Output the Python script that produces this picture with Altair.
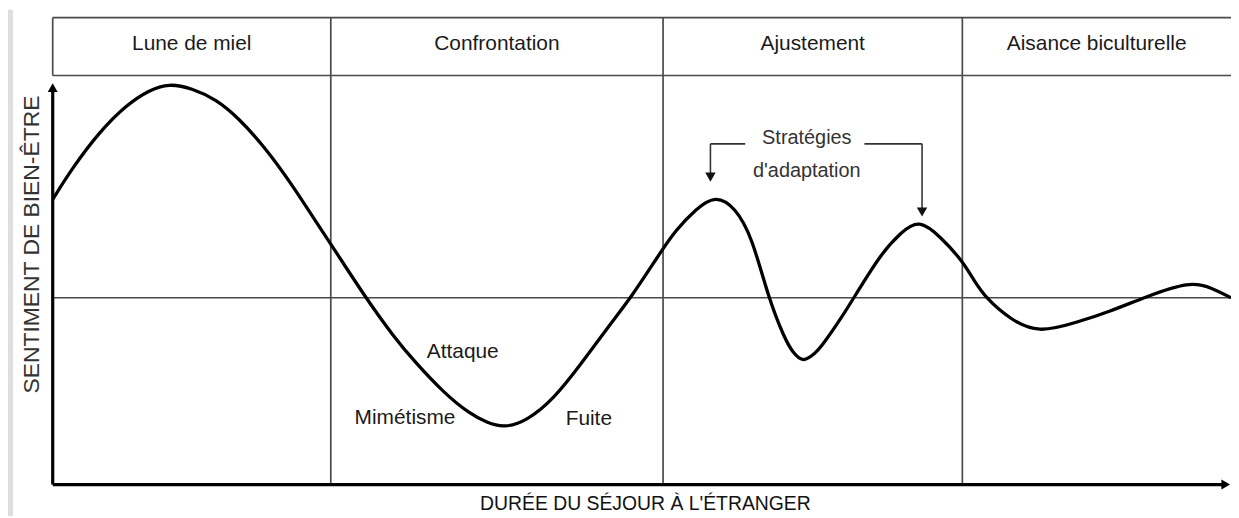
import altair as alt
import pandas as pd

# ---------------- data (time 0-100, well-being: 0 = neutral line, -100 = x axis) -------------
curve_t = [0, 1.69, 3.96, 6.24, 8.18, 9.87, 11.80, 13.83, 15.77, 18.04, 20.24, 22.26, 23.78,
           26.56, 29.0, 30.69, 33.22, 35.41, 36.85, 38.28, 40.22, 42.50, 44.69, 47.22, 49.07,
           51.43, 52.87, 54.55, 56.24, 57.93, 59.36, 60.71, 62.14, 62.82, 63.66, 64.50, 65.26,
           66.95, 68.04, 70.32, 72.01, 73.52, 75.38, 77.15, 78.16, 79.17, 81.28, 83.64, 86.85,
           89.71, 92.75, 96.54, 98.40, 100]
curve_v = [52.7, 69.7, 88.8, 103.2, 111.2, 114.8, 112.2, 106.4, 96.3, 80.3, 61.2, 41.5, 27.1,
           0, -21.3, -34.0, -51.1, -62.2, -66.8, -69.7, -66.0, -54.3, -36.7, -14.9, 0,
           22.9, 36.2, 47.3, 55.1, 48.4, 32.4, 0.5, -22.3, -29.3, -34.5, -30.9, -26.1,
           -10.6, 0.5, 23.9, 35.1, 42.2, 32.4, 20.2, 9.6, 0, -11.7, -19.0, -13.3,
           -7.4, 0.5, 8.9, 5.3, 0]

phase_names = ["Lune de miel", "Confrontation", "Ajustement", "Aisance biculturelle"]
phase_bounds = [0, 23.6, 51.8, 77.2, 100]

header_bottom = 119
header_top = 150
axis_bottom = -100
y_arrow_tip = 115

phase_labels = ["Attaque", "Mimétisme", "Fuite"]
phase_label_t = [34.8, 29.9, 45.5]
phase_label_v = [-29.3, -64.4, -64.9]

strat_lines = ["Stratégies", "d'adaptation"]
strat_t = [64.0, 64.0]
strat_v = [85.6, 68.1]

# bracket arrows to the two adaptation peaks
bracket_from_t = [58.77, 68.89]
bracket_to_t = [55.82, 73.78]
bracket_v = [82.4, 82.4]
bracket_end_v = [66.5, 48.0]
arrowhead_v = [64.6, 45.9]

x_title = "DURÉE DU SÉJOUR À L'ÉTRANGER"
y_title = "SENTIMENT DE BIEN-ÊTRE"

# ---------------- scales ----------------
FONT = "Liberation Sans, Arial, sans-serif"
xs = alt.Scale(domain=[0, 100], range=[45, 1231], nice=False, zero=False)
ys = alt.Scale(domain=[-100, 150], range=[478, 8], nice=False, zero=False)


def X(f):
    return alt.X(f, type="quantitative", scale=xs, axis=None)


def X2(f):
    return alt.X2(f)


def Y(f):
    return alt.Y(f, type="quantitative", scale=ys, axis=None)


def Y2(f):
    return alt.Y2(f)


# ---------------- tables ----------------
curve = pd.DataFrame({"t": curve_t, "v": curve_v})

grid_rows = []
grid_rows.append({"t1": 0, "t2": 100, "v1": header_top, "v2": header_top})
grid_rows.append({"t1": 0, "t2": 100, "v1": header_bottom, "v2": header_bottom})
grid_rows.append({"t1": 0, "t2": 100, "v1": 0, "v2": 0})
grid_rows.append({"t1": 0, "t2": 0, "v1": header_bottom, "v2": header_top})
for b in phase_bounds[1:-1]:
    grid_rows.append({"t1": b, "t2": b, "v1": axis_bottom, "v2": header_top})
grid = pd.DataFrame(grid_rows)

axes = pd.DataFrame([
    {"t1": 0, "t2": 0, "v1": axis_bottom, "v2": y_arrow_tip - 4},
    {"t1": 0, "t2": 99.4, "v1": axis_bottom, "v2": axis_bottom},
])
axis_heads = pd.DataFrame([
    {"t": 0, "v": y_arrow_tip - 2.5, "shape": "triangle-up"},
    {"t": 99.55, "v": axis_bottom, "shape": "triangle-right"},
])

br_rows = []
for i in range(2):
    br_rows.append({"t1": bracket_from_t[i], "t2": bracket_to_t[i], "v1": bracket_v[i], "v2": bracket_v[i]})
    br_rows.append({"t1": bracket_to_t[i], "t2": bracket_to_t[i], "v1": bracket_v[i], "v2": bracket_end_v[i]})
brackets = pd.DataFrame(br_rows)
br_heads = pd.DataFrame({"t": bracket_to_t, "v": arrowhead_v})

headers = pd.DataFrame({
    "label": phase_names,
    "t": [(phase_bounds[i] + phase_bounds[i + 1]) / 2 for i in range(4)],
    "v": [(header_bottom + header_top) / 2 + 1.5] * 4,
})
inner = pd.DataFrame({"label": phase_labels, "t": phase_label_t, "v": phase_label_v})
strat = pd.DataFrame({"label": strat_lines, "t": strat_t, "v": strat_v})
xt = pd.DataFrame({"label": [x_title], "t": [50.3], "v": [-110.5]})
yt = pd.DataFrame({"label": [y_title], "t": [-1.75], "v": [28.5]})

# ---------------- layers ----------------
strip = alt.Chart(pd.DataFrame({"a": [0]})).mark_rect(color="#dedede").encode(
    x=alt.value(0), x2=alt.value(5), y=alt.value(0), y2=alt.value(510))

grid_l = alt.Chart(grid).mark_rule(color="#4a4a4a", strokeWidth=1.7).encode(
    x=X("t1"), x2=X2("t2"), y=Y("v1"), y2=Y2("v2"))

axes_l = alt.Chart(axes).mark_rule(color="#000000", strokeWidth=3.2).encode(
    x=X("t1"), x2=X2("t2"), y=Y("v1"), y2=Y2("v2"))

heads_l = alt.Chart(axis_heads).mark_point(filled=True, color="#000000", size=100, opacity=1).encode(
    x=X("t"), y=Y("v"), shape=alt.Shape("shape:N", scale=None, legend=None))

curve_l = alt.Chart(curve).mark_line(color="#000000", strokeWidth=3.3, interpolate="basis").encode(
    x=X("t"), y=Y("v"), order="t:Q")

br_l = alt.Chart(brackets).mark_rule(color="#333333", strokeWidth=1.6).encode(
    x=X("t1"), x2=X2("t2"), y=Y("v1"), y2=Y2("v2"))

br_heads_l = alt.Chart(br_heads).mark_point(filled=True, color="#111111", size=110, opacity=1,
                                            shape="triangle-down").encode(x=X("t"), y=Y("v"))

headers_l = alt.Chart(headers).mark_text(font=FONT, fontSize=21, color="#1a1a1a", baseline="middle").encode(
    x=X("t"), y=Y("v"), text="label:N")

inner_l = alt.Chart(inner).mark_text(font=FONT, fontSize=21, color="#1a1a1a", baseline="middle").encode(
    x=X("t"), y=Y("v"), text="label:N")

strat_l = alt.Chart(strat).mark_text(font=FONT, fontSize=20, color="#333333", baseline="middle").encode(
    x=X("t"), y=Y("v"), text="label:N")

xt_l = alt.Chart(xt).mark_text(font=FONT, fontSize=19.5, color="#111111", baseline="middle").encode(
    x=X("t"), y=Y("v"), text="label:N")

yt_l = alt.Chart(yt).mark_text(font=FONT, fontSize=23, color="#333333", baseline="middle", angle=270).encode(
    x=X("t"), y=Y("v"), text="label:N")

chart = alt.layer(
    strip, grid_l, axes_l, heads_l, curve_l, br_l, br_heads_l,
    headers_l, inner_l, strat_l, xt_l, yt_l
).properties(
    width=1231, height=510, padding=0, autosize="none", background="#ffffff"
).configure_view(stroke=None)

chart.save("out.html", embed_options={"renderer": "svg", "actions": False})
